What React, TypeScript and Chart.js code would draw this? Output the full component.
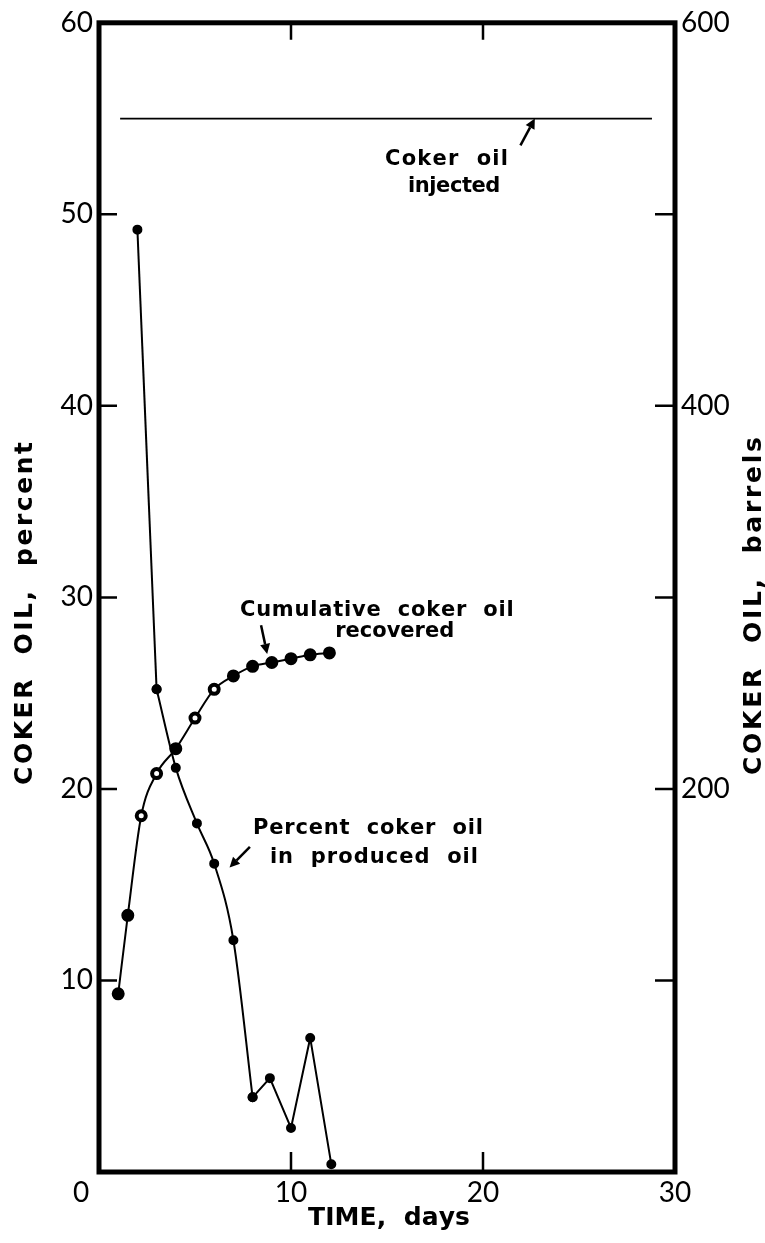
import { useEffect, useRef } from 'react';
import { Chart, registerables } from 'chart.js';

Chart.register(...registerables);

// ---- data ----
const percentDays = [2, 3, 4, 5.1, 6, 7, 8, 8.9, 10, 11, 12.1];
const percentValues = [49.2, 25.2, 21.1, 18.2, 16.1, 12.1, 3.9, 4.9, 2.3, 7.0, 0.4];
// index ranges of the percent curve: [start, end, smooth?]
const percentPieces: [number, number, boolean][] = [
  [0, 1, false],
  [1, 6, true],
  [6, 10, false],
];

const cumulativeDays = [1, 1.5, 2.2, 3, 4, 5, 6, 7, 8, 9, 10, 11, 12];
const cumulativeBarrels = [93, 134, 186, 208, 221, 237, 252, 259, 264, 266, 268, 270, 271];
const cumulativeHollow = [false, false, true, true, false, true, true, false, false, false, false, false, false];

const injectedDays = [1.1, 28.8];
const injectedBarrels = [550, 550];

const xRange = [0, 30];
const xStep = 10;
const yPercentRange = [0, 60];
const yPercentStep = 10;
const yBarrelRange = [0, 600];
const yBarrelStep = 100;
const yBarrelLabelEvery = 200;

const xTitle = 'TIME,  days';
const yLeftTitle = 'COKER  OIL,  percent';
const yRightTitle = 'COKER  OIL,  barrels';

// annotation texts: [text, xStart(days), xEnd(days), baseline(percent)]
const notes: [string, number, number, number][] = [
  ['Coker  oil', 14.9, 21.3, 52.6],
  ['injected', 16.1, 20.9, 51.15],
  ['Cumulative  coker  oil', 7.34, 21.6, 29.05],
  ['recovered', 12.3, 18.5, 27.95],
  ['Percent  coker  oil', 8.02, 20.0, 17.66],
  ['in  produced  oil', 8.9, 19.74, 16.15],
];
// arrows: [tailX, tailY, headX, headY] in days / percent
const arrows: [number, number, number, number][] = [
  [21.95, 53.6, 22.7, 55.0],
  [8.44, 28.55, 8.76, 27.05],
  [7.86, 16.98, 6.8, 15.9],
];

const W = 765;
const H = 1243;
const AREA_LEFT = 99;
const AREA_RIGHT = 675;
const AREA_TOP = 20;
const AREA_BOTTOM = 1172;

const TICK_FONT = { family: 'Lato, "DejaVu Sans", sans-serif', size: 28 };
const BOLD = '"DejaVu Sans", sans-serif';

function fitText(ctx: CanvasRenderingContext2D, text: string, x0: number, x1: number, y: number) {
  const chars = Array.from(text);
  const widths = chars.map((c) => ctx.measureText(c).width);
  const total = widths.reduce((a, b) => a + b, 0);
  const gap = chars.length > 1 ? (x1 - x0 - total) / (chars.length - 1) : 0;
  let x = x0;
  ctx.textAlign = 'left';
  ctx.textBaseline = 'alphabetic';
  chars.forEach((c, i) => {
    ctx.fillText(c, x, y);
    x += widths[i] + gap;
  });
}

const decor = {
  id: 'decor',
  afterDraw(chart: any) {
    const { ctx, chartArea: a, scales } = chart;
    const sx = scales.x;
    const sy = scales.y;
    const sy2 = scales.y2;
    ctx.save();
    ctx.strokeStyle = '#000';
    ctx.fillStyle = '#000';

    // frame
    ctx.lineWidth = 5;
    ctx.lineJoin = 'miter';
    ctx.strokeRect(a.left, a.top, a.right - a.left, a.bottom - a.top);

    // inward tick marks
    ctx.lineWidth = 2.5;
    ctx.beginPath();
    for (const t of sx.ticks) {
      if (t.value <= sx.min || t.value >= sx.max) continue;
      const px = sx.getPixelForValue(t.value);
      ctx.moveTo(px, a.bottom);
      ctx.lineTo(px, a.bottom - 20);
      ctx.moveTo(px, a.top);
      ctx.lineTo(px, a.top + 17);
    }
    for (const t of sy.ticks) {
      if (t.value <= sy.min || t.value >= sy.max) continue;
      const py = sy.getPixelForValue(t.value);
      ctx.moveTo(a.left, py);
      ctx.lineTo(a.left + 18, py);
    }
    for (const t of sy2.ticks) {
      if (t.value <= sy2.min || t.value >= sy2.max) continue;
      const py = sy2.getPixelForValue(t.value);
      ctx.moveTo(a.right, py);
      ctx.lineTo(a.right - 20, py);
    }
    ctx.stroke();

    // annotations
    ctx.font = `bold 21px ${BOLD}`;
    for (const [text, d0, d1, p] of notes) {
      fitText(ctx, text, sx.getPixelForValue(d0), sx.getPixelForValue(d1), sy.getPixelForValue(p));
    }
    ctx.lineWidth = 2.5;
    for (const [tx, ty, hx, hy] of arrows) {
      const x0 = sx.getPixelForValue(tx);
      const y0 = sy.getPixelForValue(ty);
      const x1 = sx.getPixelForValue(hx);
      const y1 = sy.getPixelForValue(hy);
      const ang = Math.atan2(y1 - y0, x1 - x0);
      const hl = 10;
      const hw = 5;
      const bx = x1 - hl * Math.cos(ang);
      const by = y1 - hl * Math.sin(ang);
      ctx.beginPath();
      ctx.moveTo(x0, y0);
      ctx.lineTo(bx, by);
      ctx.stroke();
      ctx.beginPath();
      ctx.moveTo(x1, y1);
      ctx.lineTo(bx + hw * Math.sin(ang), by - hw * Math.cos(ang));
      ctx.lineTo(bx - hw * Math.sin(ang), by + hw * Math.cos(ang));
      ctx.closePath();
      ctx.fill();
    }

    // axis titles
    ctx.font = `bold 25px ${BOLD}`;
    fitText(ctx, xTitle, 308, 470, 1225);

    ctx.save();
    ctx.translate(32, 0);
    ctx.rotate(-Math.PI / 2);
    fitText(ctx, yLeftTitle, -785, -442, 0);
    ctx.restore();

    ctx.save();
    ctx.translate(761, 0);
    ctx.rotate(-Math.PI / 2);
    fitText(ctx, yRightTitle, -775, -437, 0);
    ctx.restore();

    ctx.restore();
  },
};

export default function App() {
  const ref = useRef<HTMLCanvasElement>(null);

  useEffect(() => {
    if (!ref.current) return;
    const percentPts = percentDays.map((d, i) => ({ x: d, y: percentValues[i] }));
    const percentSets = percentPieces.map(([s, e, smooth], k) => ({
      label: `Percent coker oil in produced oil ${k + 1}`,
      data: percentPts.slice(s, e + 1),
      xAxisID: 'x',
      yAxisID: 'y',
      borderColor: '#000',
      borderWidth: 2,
      pointRadius: 4,
      pointBorderWidth: 2,
      pointBackgroundColor: '#000',
      pointBorderColor: '#000',
      cubicInterpolationMode: smooth ? 'monotone' : 'default',
      tension: 0,
      fill: false,
    }));
    const chart = new Chart(ref.current, {
      type: 'line',
      data: {
        datasets: [
          ...percentSets,
          {
            label: 'Cumulative coker oil recovered',
            data: cumulativeDays.map((d, i) => ({ x: d, y: cumulativeBarrels[i] })),
            xAxisID: 'x',
            yAxisID: 'y2',
            borderColor: '#000',
            borderWidth: 2,
            pointRadius: 4.5,
            pointBorderWidth: 4,
            pointBackgroundColor: cumulativeHollow.map((h) => (h ? '#fff' : '#000')),
            pointBorderColor: '#000',
            cubicInterpolationMode: 'monotone',
            fill: false,
          },
          {
            label: 'Coker oil injected',
            data: injectedDays.map((d, i) => ({ x: d, y: injectedBarrels[i] })),
            xAxisID: 'x',
            yAxisID: 'y2',
            borderColor: '#000',
            borderWidth: 1.8,
            pointRadius: 0,
            tension: 0,
            fill: false,
          },
        ],
      },
      options: {
        responsive: false,
        animation: false,
        devicePixelRatio: 1,
        layout: { padding: 0 },
        plugins: { legend: { display: false }, tooltip: { enabled: false } },
        events: [],
        scales: {
          x: {
            type: 'linear',
            position: 'bottom',
            min: xRange[0],
            max: xRange[1],
            grid: { display: false, drawTicks: false },
            border: { display: false },
            ticks: {
              stepSize: xStep,
              color: '#000',
              font: TICK_FONT,
              padding: 4,
              maxRotation: 0,
              autoSkip: false,
              callback: (v: any) => (v === 0 ? '0     ' : String(v)),
            },
            afterFit: (s: any) => {
              s.height = H - AREA_BOTTOM;
            },
          },
          x2: {
            type: 'linear',
            position: 'top',
            min: xRange[0],
            max: xRange[1],
            grid: { display: false, drawTicks: false },
            border: { display: false },
            ticks: { display: false, stepSize: xStep },
            afterFit: (s: any) => {
              s.height = AREA_TOP;
            },
          },
          y: {
            type: 'linear',
            position: 'left',
            min: yPercentRange[0],
            max: yPercentRange[1],
            grid: { display: false, drawTicks: false },
            border: { display: false },
            ticks: {
              stepSize: yPercentStep,
              color: '#000',
              font: TICK_FONT,
              padding: 6,
              autoSkip: false,
              callback: (v: any) => (v === 0 ? '' : String(v)),
            },
            afterFit: (s: any) => {
              s.width = AREA_LEFT;
            },
          },
          y2: {
            type: 'linear',
            position: 'right',
            min: yBarrelRange[0],
            max: yBarrelRange[1],
            grid: { display: false, drawTicks: false },
            border: { display: false },
            ticks: {
              stepSize: yBarrelStep,
              color: '#000',
              font: TICK_FONT,
              padding: 6,
              autoSkip: false,
              callback: (v: any) => (v > 0 && v % yBarrelLabelEvery === 0 ? String(v) : ''),
            },
            afterFit: (s: any) => {
              s.width = W - AREA_RIGHT;
            },
          },
        },
      } as any,
      plugins: [decor],
    });
    return () => chart.destroy();
  }, []);

  return (
    <div style={{ position: 'fixed', left: 0, top: 0, width: W, height: H, background: '#fff' }}>
      <canvas ref={ref} width={W} height={H} style={{ display: 'block', width: W, height: H }} />
    </div>
  );
}
